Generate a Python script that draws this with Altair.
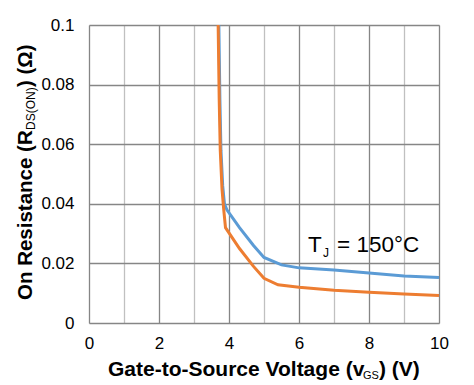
import altair as alt
import pandas as pd

# Data
blue_v = [3.71, 3.74, 3.77, 3.82, 3.87, 3.94, 4.3, 4.7, 5.0, 5.5, 6.0, 7.0, 8.0, 9.0, 10.0]
blue_r = [0.1, 0.075, 0.058, 0.046, 0.040, 0.038, 0.032, 0.026, 0.022, 0.0195, 0.0185, 0.0178, 0.0168, 0.0158, 0.0153]
orange_v = [3.69, 3.72, 3.75, 3.80, 3.85, 3.90, 4.3, 4.7, 5.0, 5.4, 6.0, 7.0, 8.0, 9.0, 10.0]
orange_r = [0.1, 0.075, 0.058, 0.045, 0.038, 0.032, 0.025, 0.019, 0.015, 0.0128, 0.012, 0.011, 0.0103, 0.0097, 0.0092]
series_names = ["blue", "orange"]
series_colors = ["#5B9BD5", "#ED7D31"]
x_ticks = list(range(0, 11))
y_ticks = [0, 0.02, 0.04, 0.06, 0.08, 0.1]

df = pd.concat([
    pd.DataFrame({"v": blue_v, "r": blue_r, "s": "blue"}),
    pd.DataFrame({"v": orange_v, "r": orange_r, "s": "orange"}),
])

W, H = 350, 298
FONT = "Liberation Sans"

lines = alt.Chart(df).mark_line(strokeWidth=3).encode(
    x=alt.X("v:Q", scale=alt.Scale(domain=[0, 10], nice=False),
            axis=alt.Axis(values=x_ticks, title=None, ticks=False, domain=False,
                          labelExpr="datum.value % 2 == 0 ? datum.label : ''",
                          labelFontSize=17, labelColor="#000", labelFont=FONT,
                          labelPadding=12, format="d", labelFlush=False,
                          gridColor={"condition": {"test": "datum.value % 2 == 1", "value": "#c0c0c0"}, "value": "#868686"},
                          gridWidth=1.3)),
    y=alt.Y("r:Q", scale=alt.Scale(domain=[0, 0.1], nice=False),
            axis=alt.Axis(values=y_ticks, title=None, ticks=False, domain=False,
                          labelFontSize=17, labelColor="#000", labelFont=FONT, labelFlush=False,
                          labelPadding=15, format="~g", gridColor="#868686", gridWidth=1.3)),
    color=alt.Color("s:N", scale=alt.Scale(domain=series_names, range=series_colors), legend=None),
    order=alt.Order("v:Q"),
)

def txt(s, x, y, size, bold=False, angle=0, align="left"):
    return alt.Chart(pd.DataFrame({"t": [s]})).mark_text(
        text=s, font=FONT, fontSize=size, fontWeight="bold" if bold else "normal",
        angle=angle, align=align, baseline="alphabetic", color="#000",
    ).encode(x=alt.value(x), y=alt.value(y))

OX, OY = 89, 25  # plot origin in page coordinates
texts = [
    # x-axis title
    txt("Gate-to-Source Voltage (v", 108 - OX, 376 - OY, 21, True),
    txt("GS", 363 - OX, 379 - OY, 11),
    txt(") (V)", 379 - OX, 376 - OY, 21, True),
    # y-axis title (rotated)
    txt("On Resistance (R", 32 - OX, 300 - OY, 20.5, True, 270),
    txt("DS(ON)", 35 - OX, 130 - OY, 12, False, 270),
    txt(") (Ω)", 32 - OX, 87 - OY, 20.5, True, 270),
    # annotation
    txt("T", 308 - OX, 252 - OY, 22.5),
    txt("J", 323 - OX, 257 - OY, 12),
    txt("= 150°C", 337 - OX, 252 - OY, 22.5),
]

chart = alt.layer(lines, *texts).properties(
    width=W, height=H,
    autosize=alt.AutoSizeParams(type="none"),
    padding={"left": 81, "top": 17, "right": 474 - 16 - 81 - W, "bottom": 385 - 16 - 17 - H + 6},
).configure_view(stroke="#000", strokeWidth=4).configure(background="white")

chart.save("out.html", embed_options={"renderer": "svg", "actions": False})
